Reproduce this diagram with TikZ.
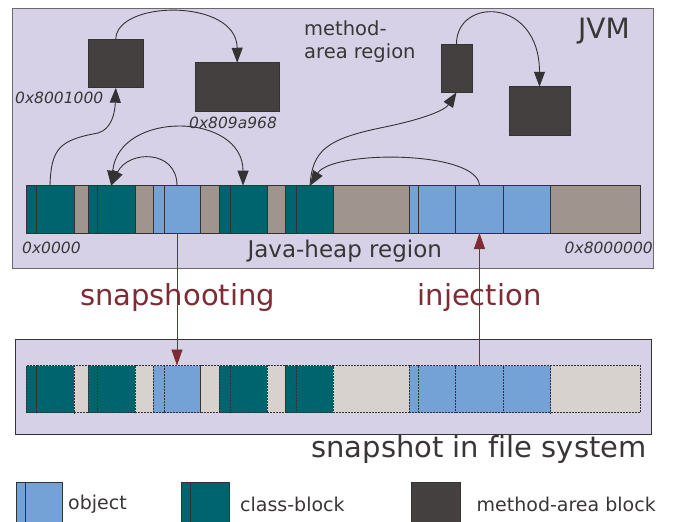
\documentclass[tikz,border=0pt]{standalone}
\usepackage{fontspec}
\setmainfont{DejaVu Sans}[Ligatures=NoCommon]
\usetikzlibrary{arrows.meta,calc}

\definecolor{lav}{HTML}{D6D1E7}
\definecolor{frame}{HTML}{6A6A6A}
\definecolor{ink}{HTML}{3A3636}
\definecolor{tl}{HTML}{00646E}
\definecolor{gr}{HTML}{A0948E}
\definecolor{bl}{HTML}{74A1D6}
\definecolor{stl}{HTML}{00646E}
\definecolor{sgr}{HTML}{D8D2CE}
\definecolor{sbl}{HTML}{74A1D6}
\definecolor{mab}{HTML}{444040}
\definecolor{rd}{HTML}{7E2B33}
\definecolor{ln}{HTML}{333333}

\tikzset{
  region/.style={draw=frame, fill=lav, line width=1pt},
  hseg/.style={draw=ln, line width=0.8pt, inner sep=0pt, outer sep=0pt,
    minimum height=47.3pt, anchor=north west},
  sseg/.style={hseg, dash pattern=on 2pt off 1pt},
  mablock/.style={fill=mab, draw=ln, line width=0.6pt, inner sep=0pt, outer sep=0pt},
  tip/.tip={Triangle[length=15pt,width=11pt]},
  blk/.style={draw=ln, line width=0.9pt, -tip},
  blkboth/.style={draw=ln, line width=0.9pt, tip-tip},
  red/.style={draw=rd, line width=0.9pt, -{Triangle[length=16pt,width=11pt]}},
  addr/.style={text=ink, font=\itshape\fontsize{15.5}{18}\selectfont, inner sep=0pt},
  big/.style={font=\fontsize{29}{34}\selectfont, inner sep=0pt},
  legtext/.style={text=ink, font=\fontsize{19}{23}\selectfont, inner sep=0pt, anchor=west},
}

\begin{document}
\begin{tikzpicture}[x=1pt,y=-1pt]
\useasboundingbox (0,0) rectangle (673,522);
\fill[white] (0,0) rectangle (673,522);

% JVM region and snapshot region
\draw[region] (12.7,8) rectangle (653,268.3);
\draw[region, draw=ln] (15,339.3) rectangle (651,434.3);

% heap bar (h1..h20) and its copy in the snapshot (s1..s20)
\foreach \a/\b/\k [count=\i] in {
  26/36.7/tl, 36.7/74/tl, 74/88.3/gr, 88.3/97.3/tl, 97.3/135/tl,
  135/153.3/gr, 153.3/164/bl, 164/200.7/bl, 200.7/219.3/gr, 219.3/230/tl,
  230/267.3/tl, 267.3/285.7/gr, 285.7/296/tl, 296/333.3/tl, 333.3/409.3/gr,
  409.3/418.3/bl, 418.3/455.7/bl, 455.7/503.3/bl, 503.3/550.7/bl, 550.7/640/gr} {
  \node[hseg, fill=\k, minimum width={\b-\a}] (h\i) at (\a,185.7) {};
  \node[sseg, fill=s\k, minimum width={\b-\a}] (s\i) at (\a,365.5) {};
}

% method-area blocks
\node[mablock, minimum width=55pt, minimum height=48.4pt] (mA) at (115.8,63.5) {};
\node[mablock, minimum width=83.7pt, minimum height=48.3pt] (mB) at (237.2,86.9) {};
\node[mablock, minimum width=31pt, minimum height=48pt] (mC) at (456.5,68.3) {};
\node[mablock, minimum width=61pt, minimum height=48.3pt] (mD) at (539.5,110.9) {};

% references between blocks
\draw[blk] ([xshift=-5.35pt]h2.north) .. controls (51,148) and (60,140) .. (98,133)
  .. controls (112,129) and (115,112) .. (mA.south);
\draw[blk] (mA.north) .. controls (116,0) and (237,-2) .. (mB.north);
\draw[blk] (mC.north) .. controls (456,-3) and (539.5,-3) .. (mD.north);
\draw[blk] ([xshift=-5.35pt]h8.north) .. controls (177,149) and (128,150) .. ([xshift=-5pt]h5.north);
\draw[blkboth] ([xshift=-5pt]h5.north) .. controls (119,110) and (243,112) .. ([xshift=-5.6pt]h11.north);
\draw[blk] (h18.north) .. controls (478,150) and (332,150) .. ([xshift=-4.6pt]h14.north);
\draw[blk] ([xshift=-4.6pt]h14.north) .. controls (312,150) and (328,139) .. (380,128)
  .. controls (425,119) and (445,110) .. (mC.south);

% snapshooting and injection
\draw[red] ([xshift=-5.35pt]h8.south) -- ([xshift=-5.35pt]s8.north);
\draw[red] (s18.north) -- (h18.south);

% labels
\node[text=ink, font=\fontsize{28}{33}\selectfont, inner sep=0pt] (jvm) at (604,31) {JVM};
\node[text=ink, font=\fontsize{19.5}{23}\selectfont, inner sep=0pt, align=left, anchor=west]
  (marea) at (304,41.5) {method-\\area region};
\node[addr, anchor=west] (a1) at (15,98) {0x8001000};
\node[addr, anchor=west] (a2) at (189,122.7) {0x809a968};
\node[addr, anchor=west] (a3) at (22,248) {0x0000};
\node[addr, anchor=east] (a4) at (653,248) {0x8000000};
\node[text=ink, font=\fontsize{23}{27}\selectfont, inner sep=0pt] (heap) at (344.7,251) {Java-heap region};
\node[big, text=rd] (snap) at (177.5,297) {snapshooting};
\node[big, text=rd] (inj) at (479.5,297) {injection};
\node[big, text=ink] (fs) at (479,449) {snapshot in file system};

% legend
\node[hseg, fill=bl, minimum width=9pt, minimum height=41pt] (lo1) at (16,482.3) {};
\node[hseg, fill=bl, minimum width=37.7pt, minimum height=41pt] (lo2) at (25,482.3) {};
\node[legtext] (lot) at (68,504) {object};
\node[hseg, fill=tl, minimum width=9pt, minimum height=41pt] (lc1) at (181,482.3) {};
\node[hseg, fill=tl, minimum width=39pt, minimum height=41pt] (lc2) at (190,482.3) {};
\node[legtext] (lct) at (240,504) {class-block};
\node[mablock, minimum width=48.3pt, minimum height=41pt, anchor=north west] (lm) at (411.7,482.3) {};
\node[legtext] (lmt) at (476.5,504) {method-area block};
\end{tikzpicture}
\end{document}
